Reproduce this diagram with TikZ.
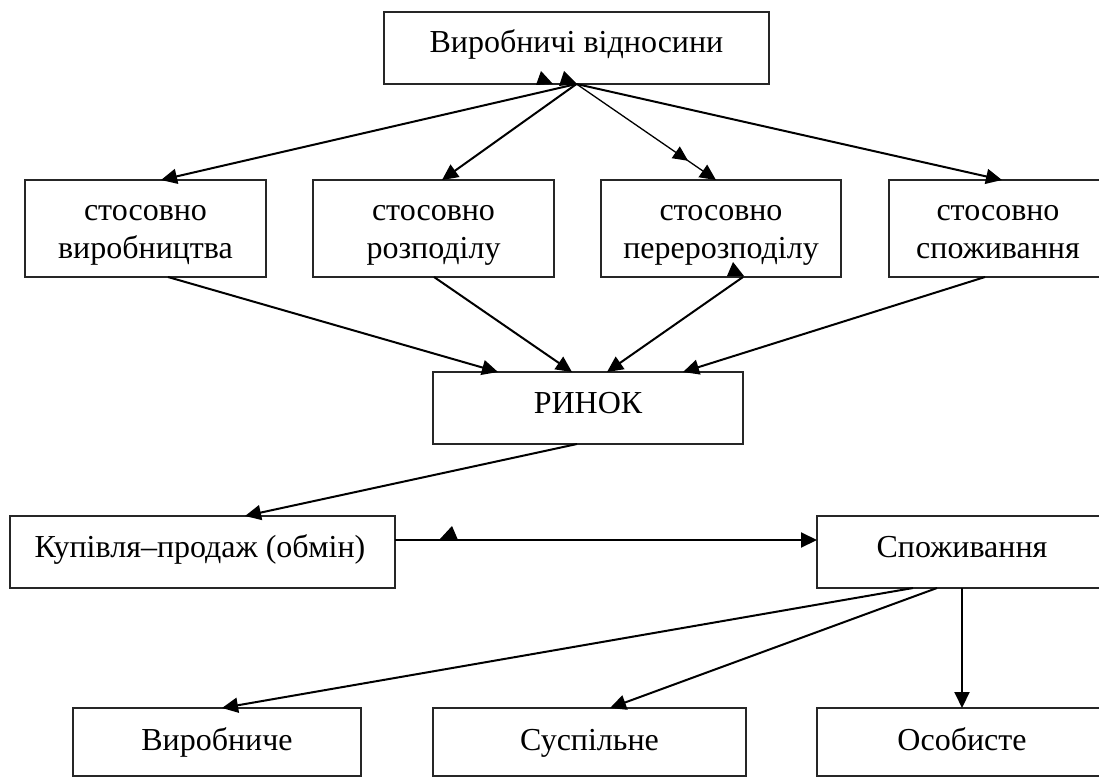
\documentclass[tikz,border=0pt]{standalone}
\usepackage{fontspec}
\setmainfont{Liberation Serif}
\usetikzlibrary{arrows.meta,decorations.markings}
\begin{document}
\begin{tikzpicture}[x=1pt,y=-1pt,
  box/.style={draw=black!85, line width=1.7pt, rectangle, inner sep=0pt, outer sep=0pt, anchor=north west},
  lbl/.style={font=\fontsize{32}{38}\selectfont, anchor=base, inner sep=0pt},
  arr/.style={line width=2pt, -{Triangle[length=16pt,width=15pt]}},
  thinarr/.style={line width=1.3pt, -{Triangle[length=16pt,width=15pt]}},
  midarrow/.style={postaction={decorate}, decoration={markings, mark=at position 0.8 with {\arrow{Triangle[length=15pt,width=14pt]}}}}
]
\useasboundingbox (0,0) rectangle (1099,778);
\clip (0,0) rectangle (1099,778);

% boxes
\node[box, minimum width=385pt, minimum height=72pt] (top) at (384,12) {};
\node[box, minimum width=241pt, minimum height=97pt] (b1) at (25,180) {};
\node[box, minimum width=241pt, minimum height=97pt] (b2) at (313,180) {};
\node[box, minimum width=240pt, minimum height=97pt] (b3) at (601,180) {};
\node[box, minimum width=218pt, minimum height=97pt] (b4) at (889,180) {};
\node[box, minimum width=310pt, minimum height=72pt] (rinok) at (433,372) {};
\node[box, minimum width=385pt, minimum height=72pt] (kup) at (10,516) {};
\node[box, minimum width=290pt, minimum height=72pt] (spoz) at (817,516) {};
\node[box, minimum width=288pt, minimum height=68pt] (v1) at (73,708) {};
\node[box, minimum width=313pt, minimum height=68pt] (v2) at (433,708) {};
\node[box, minimum width=290pt, minimum height=68pt] (v3) at (817,708) {};

% labels
\node[lbl] (topt) at (576.5,53) {Виробничі відносини};
\node[lbl] (b1a) at (145.5,220) {стосовно};
\node[lbl] (b1b) at (145.5,258) {виробництва};
\node[lbl] (b2a) at (433.5,220) {стосовно};
\node[lbl] (b2b) at (433.5,258) {розподілу};
\node[lbl] (b3a) at (721,220) {стосовно};
\node[lbl] (b3b) at (721,258) {перерозподілу};
\node[lbl] (b4a) at (998,220) {стосовно};
\node[lbl] (b4b) at (998,258) {споживання};
\node[lbl] (rinokt) at (588,413) {РИНОК};
\node[lbl] (kupt) at (200,557) {Купівля–продаж (обмін)};
\node[lbl] (spozt) at (962,557) {Споживання};
\node[lbl] (v1t) at (217,750) {Виробниче};
\node[lbl] (v2t) at (589.5,750) {Суспільне};
\node[lbl] (v3t) at (962,750) {Особисте};

% connectors: top -> row 2
\draw[arr] (top.south) -- ([xshift=136pt]b1.north west);
\draw[arr] (top.south) -- ([xshift=129pt]b2.north west);
\draw[thinarr, midarrow] (top.south) -- ([xshift=115pt]b3.north west);
\draw[arr] (top.south) -- ([xshift=113pt]b4.north west);

% row 2 -> rinok
\draw[arr] ([xshift=143pt]b1.south west) -- ([xshift=65pt]rinok.north west);
\draw[arr] ([xshift=121pt]b2.south west) -- ([xshift=139pt]rinok.north west);
\draw[arr] ([xshift=142pt]b3.south west) -- ([xshift=174pt]rinok.north west);
\draw[arr] ([xshift=96pt]b4.south west) -- ([xshift=250pt]rinok.north west);

% rinok -> kup, kup -> spoz
\draw[arr] ([xshift=144pt]rinok.south west) -- ([xshift=235pt]kup.north west);
\draw[arr] ([yshift=12pt]kup.east) -- ([yshift=12pt]spoz.west);

% spoz -> bottom row
\draw[arr] ([xshift=96pt]spoz.south west) -- ([xshift=149pt]v1.north west);
\draw[arr] ([xshift=120pt]spoz.south west) -- ([xshift=177pt]v2.north west);
\draw[arr] ([xshift=145pt]spoz.south west) -- ([xshift=145pt]v3.north west);

% stray arrowheads as in the reference
\fill (536,85) -- (541,71) -- (553,84) -- cycle;
\fill (559,86) -- (564,71) -- (577,84) -- cycle;
\fill (727,276) -- (733,262) -- (744,276) -- cycle;
\fill (440,539) -- (452,526) -- (458,540) -- cycle;
\end{tikzpicture}
\end{document}
